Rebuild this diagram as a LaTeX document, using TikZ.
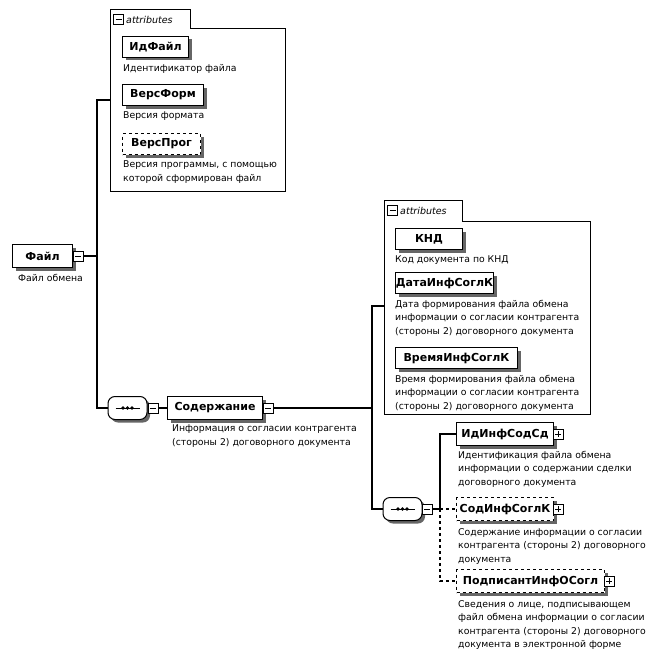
\documentclass[tikz,border=0pt]{standalone}
\usepackage{fontspec}
\setmainfont{DejaVu Sans}
\usepackage{tikz}
\usetikzlibrary{positioning}
\usetikzlibrary{shadows}

\begin{document}
\begin{tikzpicture}[x=1pt, y=-1pt,
  elem/.style={draw, line width=1pt, fill=white, anchor=west, minimum height=23pt, inner sep=0pt,
    font=\bfseries\fontsize{11}{13}\selectfont,
    general shadow={fill=black!60, shadow xshift=3pt, shadow yshift=-3pt}},
  attr/.style={elem, minimum height=21pt},
  optattr/.style={attr, dashed},
  optelem/.style={elem, dashed},
  desc/.style={inner sep=0pt, align=left, font=\fontsize{9.3}{13.5}\selectfont},
  tabtext/.style={inner sep=0pt, anchor=west, font=\itshape\fontsize{9.5}{11}\selectfont},
  panel/.style={draw, line width=1pt},
  wire/.style={draw, line width=1.2pt},
  minusbox/.style={draw, fill=white, line width=0.9pt, minimum size=10pt, inner sep=0pt,
    path picture={\draw ([xshift=-3pt]path picture bounding box.center) -- ([xshift=3pt]path picture bounding box.center);}},
  plusbox/.style={draw, fill=white, line width=0.9pt, minimum size=10pt, inner sep=0pt,
    path picture={\draw ([xshift=-3pt]path picture bounding box.center) -- ([xshift=3pt]path picture bounding box.center);
      \draw ([yshift=-3pt]path picture bounding box.center) -- ([yshift=3pt]path picture bounding box.center);}},
  seq/.style={rectangle, rounded corners=7pt, draw, line width=1pt, fill=white,
    minimum width=39pt, minimum height=23pt, inner sep=0pt,
    general shadow={fill=black!60, shadow xshift=3pt, shadow yshift=-3pt},
    path picture={\draw[line width=1pt] ([xshift=-12pt]path picture bounding box.center) -- ([xshift=12pt]path picture bounding box.center);
      \foreach \d in {-4.5,0,4.5} \fill[black] ([xshift=\d pt]path picture bounding box.center) circle (1.8pt);}}
]
\useasboundingbox (0,0) rectangle (655,661);

% root element
\node[elem, minimum width=60pt] (file) at (12,256) {Файл};
\node[minusbox] (fileminus) at (78,256) {};
\node[desc, below right=6pt and 6pt of file.south west] (filedesc) {Файл обмена};

% attributes of the root
\path[panel] (110,10) -- (190,10) -- (190,29) -- (285,29) -- (285,191) -- (110,191) -- cycle;
\node[minusbox] (tabA) at (118.5,19.5) {};
\node[tabtext] at (126,19.5) {attributes};
\coordinate (attrA) at (110,100);

\node[attr, minimum width=66pt] (idfile) at (122,47) {ИдФайл};
\node[desc, below right=6pt and 1pt of idfile.south west] {Идентификатор файла};
\node[attr, minimum width=81pt] (versform) at (122,95) {ВерсФорм};
\node[desc, below right=6pt and 1pt of versform.south west] {Версия формата};
\node[optattr, minimum width=78pt] (versprog) at (122,144) {ВерсПрог};
\node[desc, below right=6pt and 1pt of versprog.south west] {Версия программы, с помощью\\которой сформирован файл};

% content element
\node[seq] (seqA) at (127.5,408) {};
\node[minusbox] (seqAminus) at (153,408) {};
\node[elem, minimum width=95pt] (content) at (167,408) {Содержание};
\node[minusbox] (contentminus) at (268,408) {};
\node[desc, below right=5pt and 5pt of content.south west] {Информация о согласии контрагента\\(стороны 2) договорного документа};

\coordinate (forkA) at (97,256);
\path[wire] (fileminus) -- (forkA);
\path[wire] (attrA) -| (forkA) |- (seqA.west);
\path[wire] (seqAminus) -- (content);

% attributes of the content
\path[panel] (384,200) -- (462,200) -- (462,221) -- (590,221) -- (590,414) -- (384,414) -- cycle;
\node[minusbox] (tabB) at (392.5,210.5) {};
\node[tabtext] at (400,210.5) {attributes};
\coordinate (attrB) at (384,306);

\node[attr, minimum width=67pt] (knd) at (395,239) {КНД};
\node[desc, below right=6pt and 0pt of knd.south west] {Код документа по КНД};
\node[attr, minimum width=98pt] (datainf) at (395,283) {ДатаИнфСоглК};
\node[desc, below right=6pt and 0pt of datainf.south west] {Дата формирования файла обмена\\информации о согласии контрагента\\(стороны 2) договорного документа};
\node[attr, minimum width=122pt] (timeinf) at (395,358) {ВремяИнфСоглК};
\node[desc, below right=6pt and 0pt of timeinf.south west] {Время формирования файла обмена\\информации о согласии контрагента\\(стороны 2) договорного документа};

% children of the content
\node[seq] (seqB) at (402.5,509) {};
\node[minusbox] (seqBminus) at (427,509) {};

\node[elem, minimum width=97pt] (idsod) at (456,434) {ИдИнфСодСд};
\node[plusbox] (idsodplus) at (558,434) {};
\node[desc, below right=5pt and 2pt of idsod.south west] {Идентификация файла обмена\\информации о содержании сделки\\договорного документа};

\node[optelem, minimum width=97pt] (sodinf) at (456,509) {СодИнфСоглК};
\node[plusbox] (sodinfplus) at (558,509) {};
\node[desc, below right=7pt and 2pt of sodinf.south west] {Содержание информации о согласии\\контрагента (стороны 2) договорного\\документа};

\node[optelem, minimum width=148pt] (signer) at (456,581) {ПодписантИнфОСогл};
\node[plusbox] (signerplus) at (609,581) {};
\node[desc, below right=7pt and 2pt of signer.south west] {Сведения о лице, подписывающем\\файл обмена информации о согласии\\контрагента (стороны 2) договорного\\документа в электронной форме};

\coordinate (forkB) at (372,408);
\coordinate (forkC) at (440,509);
\path[wire] (contentminus) -- (forkB);
\path[wire] (attrB) -| (forkB) |- (seqB.west);
\path[wire] (seqBminus) -- (forkC);
\path[wire] (forkC) |- (idsod.west);
\path[wire, dashed] (forkC) -- (sodinf.west);
\path[wire, dashed] (forkC) |- (signer.west);

\end{tikzpicture}
\end{document}
